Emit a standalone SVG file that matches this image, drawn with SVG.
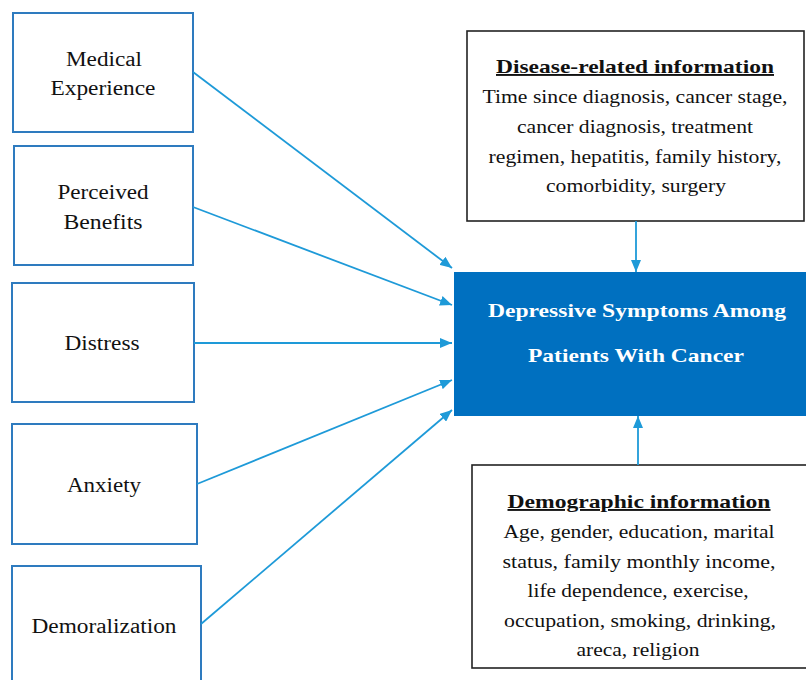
<svg xmlns="http://www.w3.org/2000/svg" width="806" height="680" viewBox="0 0 806 680">
<style>
.lb{fill:#fff;stroke:#2E7BBF;stroke-width:2}
.ib{fill:#fff;stroke:#222;stroke-width:1.6}
.t{font-family:"Liberation Serif","Times New Roman",serif;font-size:20px;fill:#111;text-anchor:middle}
.ti{font-family:"Liberation Serif","Times New Roman",serif;font-size:18.5px;fill:#111;text-anchor:middle}
.h{font-family:"Liberation Serif","Times New Roman",serif;font-size:19px;font-weight:bold;fill:#111;text-anchor:middle;text-decoration:underline}
.c{font-family:"Liberation Serif","Times New Roman",serif;font-size:19px;font-weight:bold;fill:#fff;text-anchor:middle}
.e{stroke:#1E9AD8;stroke-width:1.8;fill:none;marker-end:url(#ah)}
</style>
<defs>
<marker id="ah" viewBox="0 0 12 10" refX="12" refY="5" markerWidth="12" markerHeight="10" markerUnits="userSpaceOnUse" orient="auto">
<path d="M0,0 L12,5 L0,10 z" fill="#1E9AD8"/>
</marker>
</defs>
<rect width="806" height="680" fill="#fff"/>
<g id="medical">
<rect class="lb" x="13" y="13" width="180" height="119"/>
<text class="t" x="104" y="66" textLength="76" lengthAdjust="spacingAndGlyphs">Medical</text>
<text class="t" x="103" y="95" textLength="105" lengthAdjust="spacingAndGlyphs">Experience</text>
</g>
<g id="benefits">
<rect class="lb" x="14" y="146" width="179" height="119"/>
<text class="t" x="103" y="199" textLength="91" lengthAdjust="spacingAndGlyphs">Perceived</text>
<text class="t" x="103" y="229" textLength="79" lengthAdjust="spacingAndGlyphs">Benefits</text>
</g>
<g id="distress">
<rect class="lb" x="12" y="283" width="182" height="119"/>
<text class="t" x="102" y="350" textLength="75" lengthAdjust="spacingAndGlyphs">Distress</text>
</g>
<g id="anxiety">
<rect class="lb" x="12" y="424" width="185" height="120"/>
<text class="t" x="104" y="492" textLength="74" lengthAdjust="spacingAndGlyphs">Anxiety</text>
</g>
<g id="demoralization">
<rect class="lb" x="12" y="566" width="189" height="130"/>
<text class="t" x="104" y="633" textLength="145" lengthAdjust="spacingAndGlyphs">Demoralization</text>
</g>
<g id="depressive">
<rect x="454" y="272" width="360" height="144" fill="#0070C0"/>
<text class="c" x="637" y="317" textLength="298" lengthAdjust="spacingAndGlyphs">Depressive Symptoms Among</text>
<text class="c" x="636" y="362" textLength="216" lengthAdjust="spacingAndGlyphs">Patients With Cancer</text>
</g>
<g id="disease">
<rect class="ib" x="467" y="31" width="337" height="190"/>
<text class="h" x="635" y="73" textLength="278" lengthAdjust="spacingAndGlyphs">Disease-related information</text>
<text class="ti" x="635" y="103" textLength="305" lengthAdjust="spacingAndGlyphs">Time since diagnosis, cancer stage,</text>
<text class="ti" x="635" y="133" textLength="236" lengthAdjust="spacingAndGlyphs">cancer diagnosis, treatment</text>
<text class="ti" x="635" y="163" textLength="293" lengthAdjust="spacingAndGlyphs">regimen, hepatitis, family history,</text>
<text class="ti" x="636" y="192" textLength="180" lengthAdjust="spacingAndGlyphs">comorbidity, surgery</text>
</g>
<g id="demographic">
<rect class="ib" x="472" y="465" width="340" height="203"/>
<text class="h" x="639" y="508" textLength="263" lengthAdjust="spacingAndGlyphs">Demographic information</text>
<text class="ti" x="639" y="538" textLength="271" lengthAdjust="spacingAndGlyphs">Age, gender, education, marital</text>
<text class="ti" x="639" y="568" textLength="273" lengthAdjust="spacingAndGlyphs">status, family monthly income,</text>
<text class="ti" x="638" y="597" textLength="221" lengthAdjust="spacingAndGlyphs">life dependence, exercise,</text>
<text class="ti" x="640" y="627" textLength="272" lengthAdjust="spacingAndGlyphs">occupation, smoking, drinking,</text>
<text class="ti" x="638" y="656" textLength="123" lengthAdjust="spacingAndGlyphs">areca, religion</text>
</g>
<g id="connectors">
<line class="e" x1="193" y1="72" x2="452" y2="268"/>
<line class="e" x1="193" y1="207" x2="452" y2="305"/>
<line class="e" x1="194" y1="343" x2="452" y2="343"/>
<line class="e" x1="197" y1="484" x2="452" y2="380"/>
<line class="e" x1="201" y1="624" x2="452" y2="410"/>
<line class="e" x1="636" y1="221" x2="636" y2="272"/>
<line class="e" x1="638" y1="465" x2="638" y2="416"/>
</g>
</svg>
